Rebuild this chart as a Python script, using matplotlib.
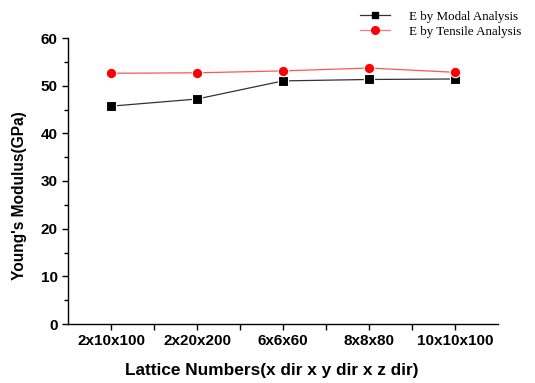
import matplotlib
matplotlib.use("Agg")
import matplotlib.pyplot as plt
from matplotlib.ticker import MultipleLocator, FixedLocator
from matplotlib.lines import Line2D

categories = ["2x10x100", "2x20x200", "6x6x60", "8x8x80", "10x10x100"]
modal = [45.7, 47.2, 51.0, 51.3, 51.4]
tensile = [52.6, 52.7, 53.1, 53.7, 52.8]
series_labels = ["E by Modal Analysis", "E by Tensile Analysis"]

fig = plt.figure(figsize=(5.35, 3.83), dpi=100)
ax = fig.add_axes([68/535, 1-324/383, (498-68)/535, (324-38)/383])

x = list(range(1, len(categories)+1))
ax.plot(x, modal, color="#333333", lw=0.9, marker="s", ms=7, mfc="black",
        mec="white", mew=0.8, zorder=3)
ax.plot(x, tensile, color="#ff5555", lw=0.9, marker="o", ms=7.5, mfc="red",
        mec="white", mew=0.8, zorder=3)

ax.set_xlim(0.5, len(categories)+0.5)
ax.set_ylim(0, 60)
ax.set_xticks(x)
ax.set_xticklabels(categories)
ax.xaxis.set_minor_locator(FixedLocator([i+0.5 for i in x[:-1]]))
ax.yaxis.set_major_locator(MultipleLocator(10))
ax.yaxis.set_minor_locator(MultipleLocator(5))
for s in ["top", "right"]:
    ax.spines[s].set_visible(False)
for s in ["left", "bottom"]:
    ax.spines[s].set_linewidth(1.0)
ax.tick_params(which="major", direction="out", length=4, width=1.0)
ax.tick_params(which="minor", direction="out", length=3, width=1.0)
ax.tick_params(axis="x", which="both", length=4)
for lab in ax.get_xticklabels() + ax.get_yticklabels():
    lab.set_fontfamily("Liberation Sans")
    lab.set_fontweight("bold")
    lab.set_fontsize(11)
ax.set_xlabel("Lattice Numbers(x dir x y dir x z dir)", fontfamily="Liberation Sans",
              fontweight="bold", fontsize=12.4)
ax.xaxis.set_label_coords(0.473, -0.135)
ax.set_ylabel("Young's Modulus(GPa)", fontfamily="Liberation Sans",
              fontweight="bold", fontsize=11.2)
ax.yaxis.set_label_coords(-0.095, 0.448)

handles = [
    Line2D([], [], color="#333333", lw=0.9, marker="s", ms=5, mfc="black", mec="black"),
    Line2D([], [], color="#ff7777", lw=0.9, marker="o", ms=5.5, mfc="red", mec="red"),
]
fig.legend(handles, series_labels, loc="upper left", bbox_to_anchor=(350/535, 1.0),
           frameon=False, prop={"family": "Liberation Serif", "size": 9.4},
           handlelength=2.3, handletextpad=1.4, labelspacing=0.25, borderpad=0.3)

fig.savefig("out.png", dpi=100)
